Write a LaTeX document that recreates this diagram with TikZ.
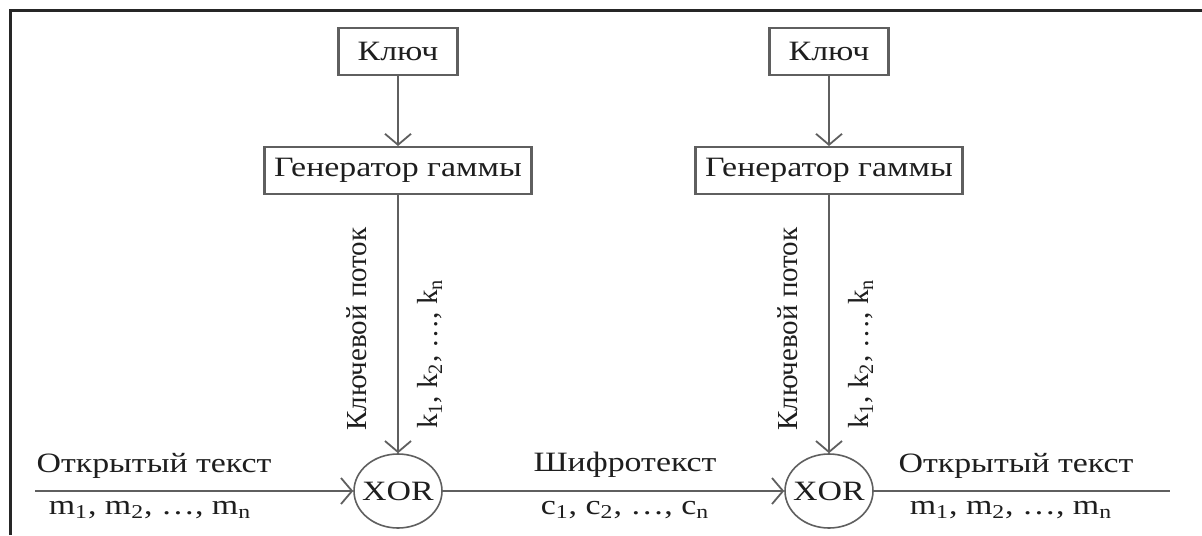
\documentclass[tikz,border=0pt]{standalone}
\usepackage{fontspec}
\setmainfont{Liberation Serif}[FakeStretch=1.21]
\newfontfamily\rotfont{Liberation Serif}
\usetikzlibrary{shapes.geometric, arrows.meta, positioning}
\definecolor{linegray}{RGB}{95,95,95}
\definecolor{textdark}{RGB}{30,30,30}
\tikzset{
  block/.style={rectangle, draw=linegray, line width=1.1pt, text=textdark,
                minimum height=23.5pt, inner sep=0pt,
                font=\fontsize{14}{17}\selectfont},
  xorbox/.style={ellipse, draw=linegray, line width=0.8pt, text=textdark,
                 minimum width=44pt, minimum height=37pt, inner sep=0pt,
                 inner xsep=-4pt, font=\fontsize{14}{17}\selectfont},
  arrow/.style={-{Straight Barb[length=5.5pt, width=13pt]}, line width=0.9pt,
                color=linegray},
  lbl/.style={text=textdark, inner sep=0pt, font=\fontsize{14}{17}\selectfont},
  rotlbl/.style={lbl, rotate=90, font=\rotfont\fontsize{14.5}{17}\selectfont},
}

\begin{document}
\begin{tikzpicture}[x=0.5pt, y=-0.5pt]
        \useasboundingbox (0,0) rectangle (1202,535);
        \draw[line width=1.5pt, black!85] (10,535) -- (10,11) -- (1202,11);

        % encryption
        \node[xorbox] (xor1) at (398,491) {XOR};
        \node[block, minimum width=133.5pt, above=129pt of xor1] (gen1) {Генератор гаммы};
        \node[block, minimum width=59.5pt, above=35pt of gen1] (key1) {Ключ};

        % decryption
        \node[xorbox] (xor2) at (829,491) {XOR};
        \node[block, minimum width=133.5pt, above=129pt of xor2] (gen2) {Генератор гаммы};
        \node[block, minimum width=59.5pt, above=35pt of gen2] (key2) {Ключ};

        \coordinate (in1) at (35,491);
        \coordinate (out2) at (1170,491);

        \draw[arrow] (key1) -- (gen1);
        \draw[arrow] (gen1) -- (xor1);
        \draw[arrow] (key2) -- (gen2);
        \draw[arrow] (gen2) -- (xor2);
        \draw[arrow] (in1) -- (xor1);
        \draw[arrow] (xor1) -- (xor2);
        \draw[line width=0.9pt, linegray] (xor2) -- (out2);

        \node[rotlbl] (stream1) at (357,329) {Ключевой поток};
        \node[rotlbl] (kseq1) at (430,354) {k\textsubscript{1}, k\textsubscript{2}, \dots, k\textsubscript{n}};
        \node[rotlbl] (stream2) at (788,329) {Ключевой поток};
        \node[rotlbl] (kseq2) at (861,354) {k\textsubscript{1}, k\textsubscript{2}, \dots, k\textsubscript{n}};

        \node[lbl] (plain1) at (154,466) {Открытый текст};
        \node[lbl] (mseq1) at (150,510) {m\textsubscript{1}, m\textsubscript{2}, \dots, m\textsubscript{n}};
        \node[lbl] (cipher) at (625,465) {Шифротекст};
        \node[lbl] (cseq) at (625,510) {c\textsubscript{1}, c\textsubscript{2}, \dots, c\textsubscript{n}};
        \node[lbl] (plain2) at (1016,466) {Открытый текст};
        \node[lbl] (mseq2) at (1011,510) {m\textsubscript{1}, m\textsubscript{2}, \dots, m\textsubscript{n}};
      \end{tikzpicture}
\end{document}
